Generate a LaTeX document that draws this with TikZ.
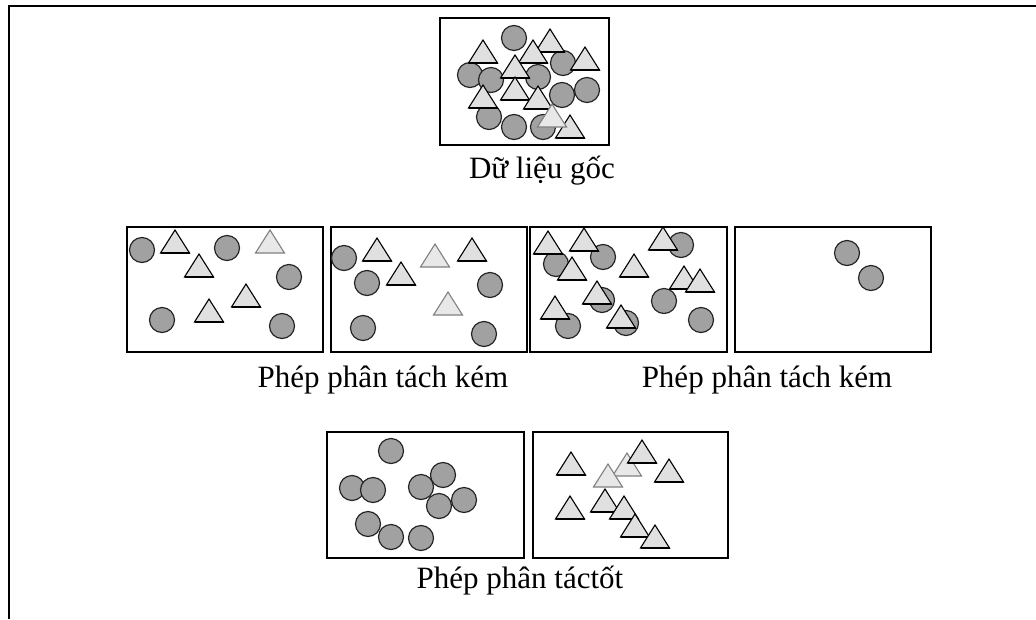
\documentclass[tikz,border=0pt]{standalone}
\usepackage{fontspec}
\setmainfont{Liberation Serif}
\tikzset{
  ball/.style={draw=black!85,line width=1.2pt,fill=black!37},
  tri/.style={draw=black,line width=1.1pt,fill=black!12},
  tripale/.style={draw=black!50,line width=1.1pt,fill=black!9},
  frame/.style={draw,line width=2.2pt},
  caption/.style={font=\fontsize{31}{34}\selectfont,inner sep=0pt,anchor=base}
}
\begin{document}
\begin{tikzpicture}[x=1pt,y=-1pt]
\useasboundingbox (0,0) rectangle (1036,619);
\draw[line width=2pt] (9,619) -- (9,6) -- (1036,6);

% du lieu goc
\draw[frame] (440,18) rectangle (609,145);
\foreach \x/\y in {514/38,470/75,491/80,538/77,563/63,562/95,587/90,489/117,514/127,543/127}
  \draw[ball] (\x,\y) circle (12.5pt);
\foreach \x/\y in {483/63,550/52,533/63,585/70,515/78,515/100,483/108,538/109,570/138}{
  \draw[tri] (\x-14.5,\y) -- (\x,\y-23) -- (\x+14.5,\y) -- cycle;
  \draw[line width=1.8pt] (\x-14.5,\y) -- (\x+14.5,\y);
}
\foreach \x/\y in {552/127}
  \draw[tripale] (\x-14.5,\y) -- (\x,\y-23) -- (\x+14.5,\y) -- cycle;
\node[caption] (goc) at (542,178) {Dữ liệu gốc};

% phan tach kem 1
\draw[frame] (127,227) rectangle (323,352);
\draw[frame] (331,227) rectangle (527,352);
\foreach \x/\y in {142/250,227/248,289/277,162/320,282/326,
                   344/258,367/283,490/285,363/328,484/334}
  \draw[ball] (\x,\y) circle (12.5pt);
\foreach \x/\y in {175/253,199/277,246/307,209/322,377/261,472/261,401/285}{
  \draw[tri] (\x-14.5,\y) -- (\x,\y-23) -- (\x+14.5,\y) -- cycle;
  \draw[line width=1.8pt] (\x-14.5,\y) -- (\x+14.5,\y);
}
\foreach \x/\y in {270/253,435/267,448/315}
  \draw[tripale] (\x-14.5,\y) -- (\x,\y-23) -- (\x+14.5,\y) -- cycle;
\node[caption] (kem1) at (383,387) {Phép phân tách kém};

% phan tach kem 2
\draw[frame] (530,227) rectangle (727,352);
\draw[frame] (735,227) rectangle (931,352);
\foreach \x/\y in {556/264,603/257,681/245,602/300,568/326,626/323,664/301,701/320,
                   847/253,871/278}
  \draw[ball] (\x,\y) circle (12.5pt);
\foreach \x/\y in {548/254,584/251,572/280,634/277,663/250,684/289,700/292,597/304,555/319,621/328}{
  \draw[tri] (\x-14.5,\y) -- (\x,\y-23) -- (\x+14.5,\y) -- cycle;
  \draw[line width=1.8pt] (\x-14.5,\y) -- (\x+14.5,\y);
}
\node[caption] (kem2) at (767,387) {Phép phân tách kém};

% phan tach tot
\draw[frame] (327,432) rectangle (524,558);
\draw[frame] (533,432) rectangle (728,558);
\foreach \x/\y in {391/451,352/488,373/490,421/487,443/475,439/506,464/500,368/524,391/537,421/538}
  \draw[ball] (\x,\y) circle (12.5pt);
\foreach \x/\y in {627/476,608/487}
  \draw[tripale] (\x-14.5,\y) -- (\x,\y-23) -- (\x+14.5,\y) -- cycle;
\foreach \x/\y in {571/475,642/463,669/482,570/519,605/512,624/519,635/537,655/548}{
  \draw[tri] (\x-14.5,\y) -- (\x,\y-23) -- (\x+14.5,\y) -- cycle;
  \draw[line width=1.8pt] (\x-14.5,\y) -- (\x+14.5,\y);
}
\node[caption] (tot) at (520,588) {Phép phân táctốt};
\end{tikzpicture}
\end{document}
